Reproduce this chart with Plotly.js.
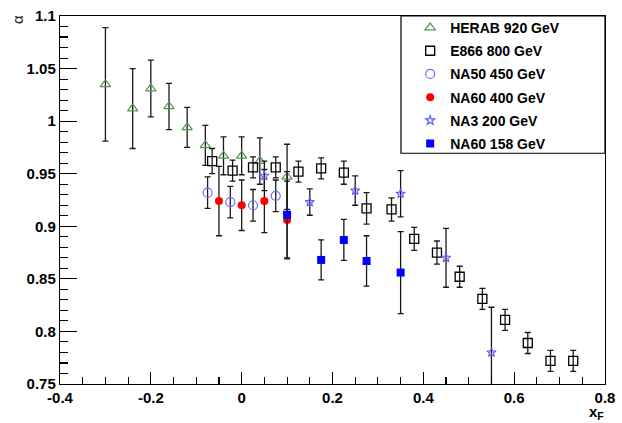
<!DOCTYPE html>
<html>
<head>
<meta charset="utf-8">
<script src="https://cdn.plot.ly/plotly-3.0.1.min.js"></script>
<style>html,body{margin:0;padding:0;background:#fff;}#chart{width:622px;height:423px;}</style>
</head>
<body>
<div id="chart"></div>
<script>
// ---- data ----
var seriesNames = ["HERAB 920 GeV", "E866 800 GeV", "NA50 450 GeV", "NA60 400 GeV", "NA3 200 GeV", "NA60 158 GeV"];

var herabX   = [-0.30, -0.24, -0.20, -0.16, -0.12, -0.08, -0.04, 0.00, 0.04, 0.10];
var herabY   = [1.035, 1.012, 1.031, 1.014, 0.994, 0.977, 0.967, 0.967, 0.962, 0.947];
var herabErr = [0.054, 0.038, 0.027, 0.022, 0.019, 0.019, 0.018, 0.018, 0.022, 0.031];

var e866X   = [-0.065, -0.02, 0.025, 0.075, 0.125, 0.175, 0.225, 0.275, 0.33, 0.38, 0.43, 0.48, 0.53, 0.58, 0.63, 0.68, 0.73];
var e866Y   = [0.962, 0.953, 0.956, 0.956, 0.952, 0.955, 0.951, 0.917, 0.916, 0.888, 0.875, 0.852, 0.831, 0.811, 0.789, 0.772, 0.772];
var e866Err = [0.012, 0.010, 0.010, 0.010, 0.010, 0.010, 0.011, 0.015, 0.011, 0.011, 0.011, 0.010, 0.010, 0.010, 0.010, 0.010, 0.010];

var na50X   = [-0.075, -0.025, 0.025, 0.075];
var na50Y   = [0.932, 0.923, 0.920, 0.929];
var na50Err = [0.015, 0.015, 0.015, 0.015];

var na60hX   = [-0.05, 0.00, 0.05, 0.10];
var na60hY   = [0.924, 0.920, 0.924, 0.906];
var na60hErr = [0.033, 0.024, 0.030, 0.037];

var na3X   = [0.05, 0.15, 0.25, 0.35, 0.45, 0.55];
var na3Y   = [0.948, 0.923, 0.934, 0.931, 0.870, 0.780];
var na3Err = [0.014, 0.0125, 0.014, 0.022, 0.028, 0.043];

var na60lX   = [0.10, 0.175, 0.225, 0.275, 0.35];
var na60lY   = [0.911, 0.868, 0.887, 0.867, 0.856];
var na60lErr = [0.041, 0.019, 0.0195, 0.024, 0.039];

var xTickVals = [-0.4, -0.2, 0, 0.2, 0.4, 0.6, 0.8];
var xTickText = ["-0.4", "-0.2", "0", "0.2", "0.4", "0.6", "0.8"];
var yTickVals = [0.75, 0.8, 0.85, 0.9, 0.95, 1, 1.05, 1.1];
var yTickText = ["0.75", "0.8", "0.85", "0.9", "0.95", "1", "1.05", "1.1"];

// ---- build traces ----
var errStyle = {color: "rgb(25,25,25)", thickness: 1.3, width: 3};
function mk(name, x, y, err, marker, idx) {
  return {
    type: "scatter", mode: "markers", name: name, x: x, y: y,
    legendgroup: "g" + idx,
    error_y: Object.assign({type: "data", array: err, visible: true}, errStyle),
    marker: marker, hoverinfo: "skip"
  };
}
var data = [
  mk(seriesNames[0], herabX, herabY, herabErr, {symbol: "triangle-up-open", size: 9, color: "rgb(85,150,85)", line: {width: 1.2}}, 0),
  mk(seriesNames[1], e866X, e866Y, e866Err, {symbol: "square-open", size: 9, color: "rgb(0,0,0)", line: {width: 1.3}}, 1),
  mk(seriesNames[2], na50X, na50Y, na50Err, {symbol: "circle-open", size: 9, color: "rgb(105,105,255)", line: {width: 1.2}}, 2),
  mk(seriesNames[3], na60hX, na60hY, na60hErr, {symbol: "circle", size: 8, color: "rgb(255,0,0)"}, 3),
  mk(seriesNames[4], na3X, na3Y, na3Err, {symbol: "star-open", size: 7, color: "rgb(90,90,255)", line: {width: 1.1}}, 4),
  mk(seriesNames[5], na60lX, na60lY, na60lErr, {symbol: "square", size: 8, color: "rgb(0,0,255)"}, 5)
];

var tickFont = {family: "Arial, 'Liberation Sans', sans-serif", size: 15, color: "#000", weight: 700};
var layout = {
  width: 622, height: 423,
  margin: {l: 60, r: 17, t: 14, b: 39, pad: 0},
  paper_bgcolor: "#fff", plot_bgcolor: "#fff",
  showlegend: true,
  legend: {
    x: 0.6425, y: 1.011, xanchor: "left", yanchor: "top",
    bgcolor: "rgba(0,0,0,0)", borderwidth: 0,
    traceorder: "grouped", tracegroupgap: 2,
    font: {family: "Arial, 'Liberation Sans', sans-serif", size: 14, color: "#000", weight: 700}
  },
  xaxis: {
    range: [-0.4, 0.8], showgrid: false, zeroline: false,
    showline: true, linecolor: "#000", linewidth: 1.2, mirror: true,
    tickmode: "array", tickvals: xTickVals, ticktext: xTickText,
    ticks: "inside", ticklen: 12, tickwidth: 1.2, tickcolor: "#000",
    minor: {tickmode: "linear", tick0: -0.4, dtick: 0.05, ticks: "inside", ticklen: 7, tickwidth: 1.1, tickcolor: "#000", showgrid: false},
    tickfont: tickFont, fixedrange: true
  },
  yaxis: {
    range: [0.75, 1.1], showgrid: false, zeroline: false,
    showline: true, linecolor: "#000", linewidth: 1.2, mirror: true,
    tickmode: "array", tickvals: yTickVals, ticktext: yTickText,
    ticks: "inside", ticklen: 17, tickwidth: 1.2, tickcolor: "#000",
    minor: {tickmode: "linear", tick0: 0.75, dtick: 0.01, ticks: "inside", ticklen: 8, tickwidth: 1.1, tickcolor: "#000", showgrid: false},
    tickfont: tickFont, fixedrange: true
  },
  shapes: [{
    type: "rect", xref: "paper", yref: "paper",
    x0: 0.6257, x1: 1, y0: 0.627, y1: 1,
    line: {color: "#000", width: 1.2}, fillcolor: "rgba(0,0,0,0)"
  }],
  annotations: [
    {text: "α", xref: "paper", yref: "paper", x: 0, y: 1, xanchor: "center", yanchor: "middle",
     xshift: -43, yshift: -4, textangle: -90, showarrow: false,
     font: {family: "Arial, 'Liberation Sans', sans-serif", size: 15, color: "#222"}},
    {text: "x<sub>F</sub>", xref: "paper", yref: "paper", x: 1, y: 0, xanchor: "right", yanchor: "top",
     xshift: 1, yshift: -17, showarrow: false,
     font: {family: "Arial, 'Liberation Sans', sans-serif", size: 15, color: "#000", weight: 700}}
  ]
};

Plotly.newPlot("chart", data, layout, {displayModeBar: false, staticPlot: true});
</script>
</body>
</html>
